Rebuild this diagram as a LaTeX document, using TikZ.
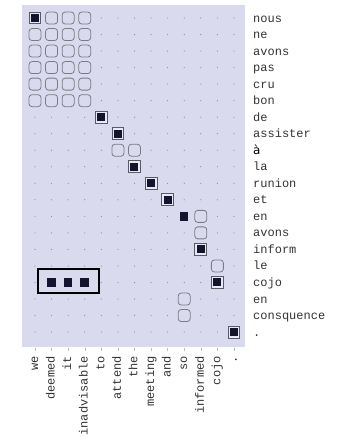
\documentclass[tikz,border=0pt]{standalone}
\usepackage{fontspec}
\setmonofont{Liberation Mono}
\newfontfamily\accfont{DejaVu Sans}
\usetikzlibrary{positioning}
\definecolor{panelbg}{HTML}{DADAEE}
\definecolor{cellink}{HTML}{14142E}
\definecolor{framegray}{HTML}{5A5A66}
\definecolor{dotgray}{HTML}{8A8A96}

\begin{document}
\begin{tikzpicture}[x=1pt, y=-1pt,
    gridpt/.style={circle, fill=dotgray, inner sep=0pt, minimum size=1.2pt},
    candbox/.style={draw=framegray!80, fill=panelbg, rounded corners=3pt, minimum size=12pt, inner sep=0pt, line width=0.8pt},
    hitbox/.style={draw=framegray, fill=panelbg!60!white, inner sep=1.9pt, line width=0.9pt},
    hitonly/.style={inner sep=0pt},
    srcword/.style={anchor=base west, text=black!80, font=\fontsize{12}{13}\selectfont\ttfamily, inner sep=0pt},
    tgtword/.style={anchor=base east, rotate=90, text=black!80, font=\fontsize{12}{13}\selectfont\ttfamily, inner sep=0pt}
]
\useasboundingbox (0,0) rectangle (337,437);
\fill[panelbg] (22,5) rectangle (245,347);

% grid points and ticks
\foreach \c in {0,...,12} {
  \foreach \r in {0,...,19}
    \node[gridpt] at (35+16.58*\c, 18+16.53*\r) {};
  \draw[dotgray!60, line width=0.4pt] (35+16.58*\c, 348) -- (35+16.58*\c, 351);
}

% candidate links
\foreach \c/\r in {1/0,2/0,3/0,
    0/1,1/1,2/1,3/1, 0/2,1/2,2/2,3/2, 0/3,1/3,2/3,3/3,
    0/4,1/4,2/4,3/4, 0/5,1/5,2/5,3/5,
    5/8,6/8, 10/12, 10/13, 11/15, 9/17, 9/18}
  \node[candbox] (cand-\c-\r) at (35+16.58*\c, 18+16.53*\r) {};

% sure links
\foreach \c/\r in {0/0, 4/6, 5/7, 6/9, 7/10, 8/11, 10/14, 11/16, 12/19}
  \node[hitbox] (hit-\c-\r) at (35+16.58*\c, 18+16.53*\r) {\color{cellink}\rule{8pt}{8pt}};

\foreach \c/\r in {9/12, 1/16, 2/16, 3/16}
  \node[hitonly] (hit-\c-\r) at (35+16.58*\c, 18+16.53*\r) {\color{cellink}\rule{8.5pt}{8.5pt}};

% phrase block
\draw[black, line width=1.5pt] (38,269) rectangle (99,293);

% source words (french)
\foreach \w [count=\i from 0] in {nous,ne,avons,pas,cru,bon,de,assister,,la,runion,et,en,avons,inform,le,cojo,en,consquence,.}
  \node[srcword] (src-\i) at (253, 22+16.53*\i) {\w};
\node[anchor=base west, font=\fontsize{12}{13}\selectfont\accfont, inner sep=0pt] (src-8x) at (253, 22+16.53*8) {à};

% target words (english)
\foreach \w [count=\i from 0] in {we,deemed,it,inadvisable,to,attend,the,meeting,and,so,informed,cojo,.}
  \node[tgtword] (tgt-\i) at (38+16.58*\i, 356) {\w};
\end{tikzpicture}
\end{document}
